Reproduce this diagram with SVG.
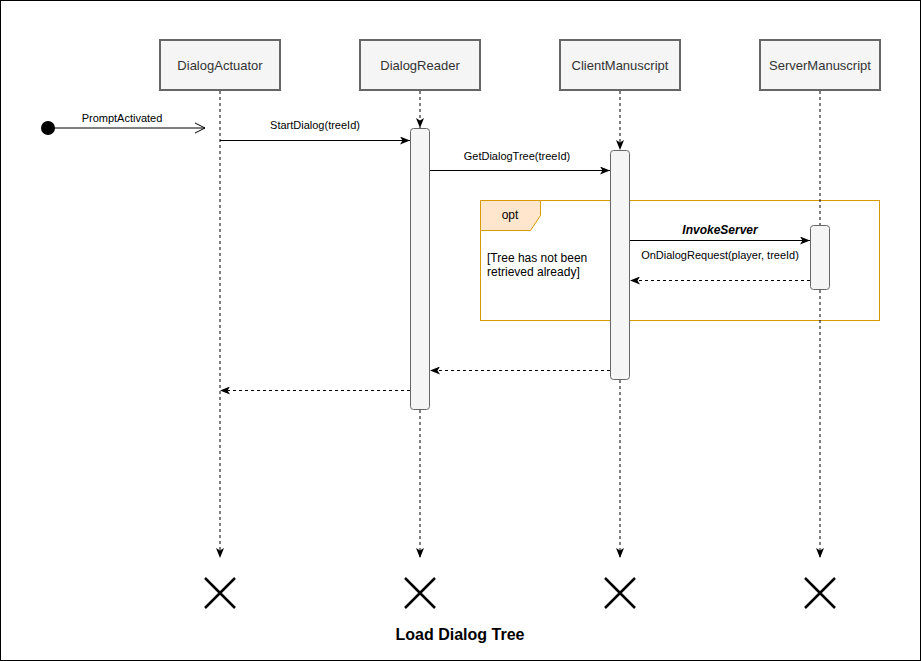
<svg xmlns="http://www.w3.org/2000/svg" width="921" height="661" viewBox="0 0 921 661">
<defs>
<style>
.hdr{fill:#f5f5f5;stroke:#666;stroke-width:2}
.hdrt{font-family:"Liberation Sans",Arial,sans-serif;font-size:13px;fill:#333;text-anchor:middle}
.lbl{font-family:"Liberation Sans",Arial,sans-serif;font-size:11px;fill:#000;text-anchor:middle}
.life{stroke:#000;stroke-width:1;stroke-dasharray:3 3;fill:none}
.act{fill:#f5f5f5;stroke:#666;stroke-width:1}
.msg{stroke:#000;stroke-width:1;fill:none}
.ret{stroke:#000;stroke-width:1;stroke-dasharray:3 3;fill:none}
.x{stroke:#000;stroke-width:2.5;fill:none}
</style>
<marker id="ah" viewBox="0 0 10 8" refX="10" refY="4" markerWidth="10" markerHeight="8" markerUnits="userSpaceOnUse" orient="auto">
<path d="M0,0 L10,4 L0,8 L2.5,4 z" fill="#000"/>
</marker>
<marker id="open" viewBox="0 0 12 12" refX="11" refY="6" markerWidth="12" markerHeight="12" markerUnits="userSpaceOnUse" orient="auto">
<path d="M1,1 L11,6 L1,11" fill="none" stroke="#000" stroke-width="1"/>
</marker>
</defs>
<rect x="0.5" y="0.5" width="920" height="660" fill="#fff" stroke="#000" stroke-width="1"/>

<g id="opt-frame">
<rect x="480.5" y="200.5" width="399" height="120" fill="none" stroke="#d79b00" stroke-width="1"/>
<path d="M480.5,200.5 L540.5,200.5 L540.5,215.5 L530.5,230.5 L480.5,230.5 z" fill="#ffe6cc" stroke="#d79b00" stroke-width="1"/>
<text x="510" y="219" font-family="&quot;Liberation Sans&quot;,Arial,sans-serif" font-size="12" text-anchor="middle" fill="#000">opt</text>
<text font-family="&quot;Liberation Sans&quot;,Arial,sans-serif" font-size="12" fill="#000"><tspan x="487" y="262">[Tree has not been</tspan><tspan x="487" y="276">retrieved already]</tspan></text>
</g>

<g id="lifelines">
<line class="life" x1="220" y1="91" x2="220" y2="558" marker-end="url(#ah)"/>
<line class="life" x1="420" y1="91" x2="420" y2="128" marker-end="url(#ah)"/>
<line class="life" x1="420" y1="410" x2="420" y2="558" marker-end="url(#ah)"/>
<line class="life" x1="620" y1="91" x2="620" y2="150" marker-end="url(#ah)"/>
<line class="life" x1="620" y1="380" x2="620" y2="558" marker-end="url(#ah)"/>
<line class="life" x1="820" y1="91" x2="820" y2="225"/>
<line class="life" x1="820" y1="290" x2="820" y2="558" marker-end="url(#ah)"/>
</g>

<g id="DialogActuator">
<rect class="hdr" x="160" y="40" width="120" height="50"/>
<text class="hdrt" x="220" y="69.5">DialogActuator</text>
<path class="x" d="M205,578 L235,608 M235,578 L205,608"/>
</g>
<g id="DialogReader">
<rect class="hdr" x="360" y="40" width="120" height="50"/>
<text class="hdrt" x="420" y="69.5">DialogReader</text>
<rect class="act" x="410.5" y="128.5" width="19" height="281" rx="3"/>
<path class="x" d="M405,578 L435,608 M435,578 L405,608"/>
</g>
<g id="ClientManuscript">
<rect class="hdr" x="560" y="40" width="120" height="50"/>
<text class="hdrt" x="620" y="69.5">ClientManuscript</text>
<rect class="act" x="610.5" y="150.5" width="19" height="229" rx="3"/>
<path class="x" d="M605,578 L635,608 M635,578 L605,608"/>
</g>
<g id="ServerManuscript">
<rect class="hdr" x="760" y="40" width="120" height="50"/>
<text class="hdrt" x="820" y="69.5">ServerManuscript</text>
<rect class="act" x="810.5" y="225.5" width="19" height="64" rx="3"/>
<path class="x" d="M805,578 L835,608 M835,578 L805,608"/>
</g>
<g id="start">
<circle cx="48" cy="128" r="7" fill="#000"/>
</g>

<g id="connectors">
<line class="msg" x1="48" y1="128" x2="205" y2="128" marker-end="url(#open)"/>
<text class="lbl" x="122" y="122">PromptActivated</text>
<line class="msg" x1="220" y1="140.5" x2="410" y2="140.5" marker-end="url(#ah)"/>
<text class="lbl" x="315" y="129">StartDialog(treeId)</text>
<line class="msg" x1="430" y1="170.5" x2="610" y2="170.5" marker-end="url(#ah)"/>
<text class="lbl" x="517" y="160">GetDialogTree(treeId)</text>
<line class="msg" x1="630" y1="240.5" x2="810" y2="240.5" marker-end="url(#ah)"/>
<text x="720" y="234" font-family="&quot;Liberation Sans&quot;,Arial,sans-serif" font-size="12" font-weight="bold" font-style="italic" text-anchor="middle" fill="#000">InvokeServer</text>
<text class="lbl" x="720" y="259">OnDialogRequest(player, treeId)</text>
<line class="ret" x1="810" y1="280.5" x2="630" y2="280.5" marker-end="url(#ah)"/>
<line class="ret" x1="610" y1="370.5" x2="430" y2="370.5" marker-end="url(#ah)"/>
<line class="ret" x1="410" y1="390.5" x2="220" y2="390.5" marker-end="url(#ah)"/>
</g>

<text x="460" y="640" font-family="&quot;Liberation Sans&quot;,Arial,sans-serif" font-size="16" font-weight="bold" text-anchor="middle" fill="#000">Load Dialog Tree</text>
</svg>
